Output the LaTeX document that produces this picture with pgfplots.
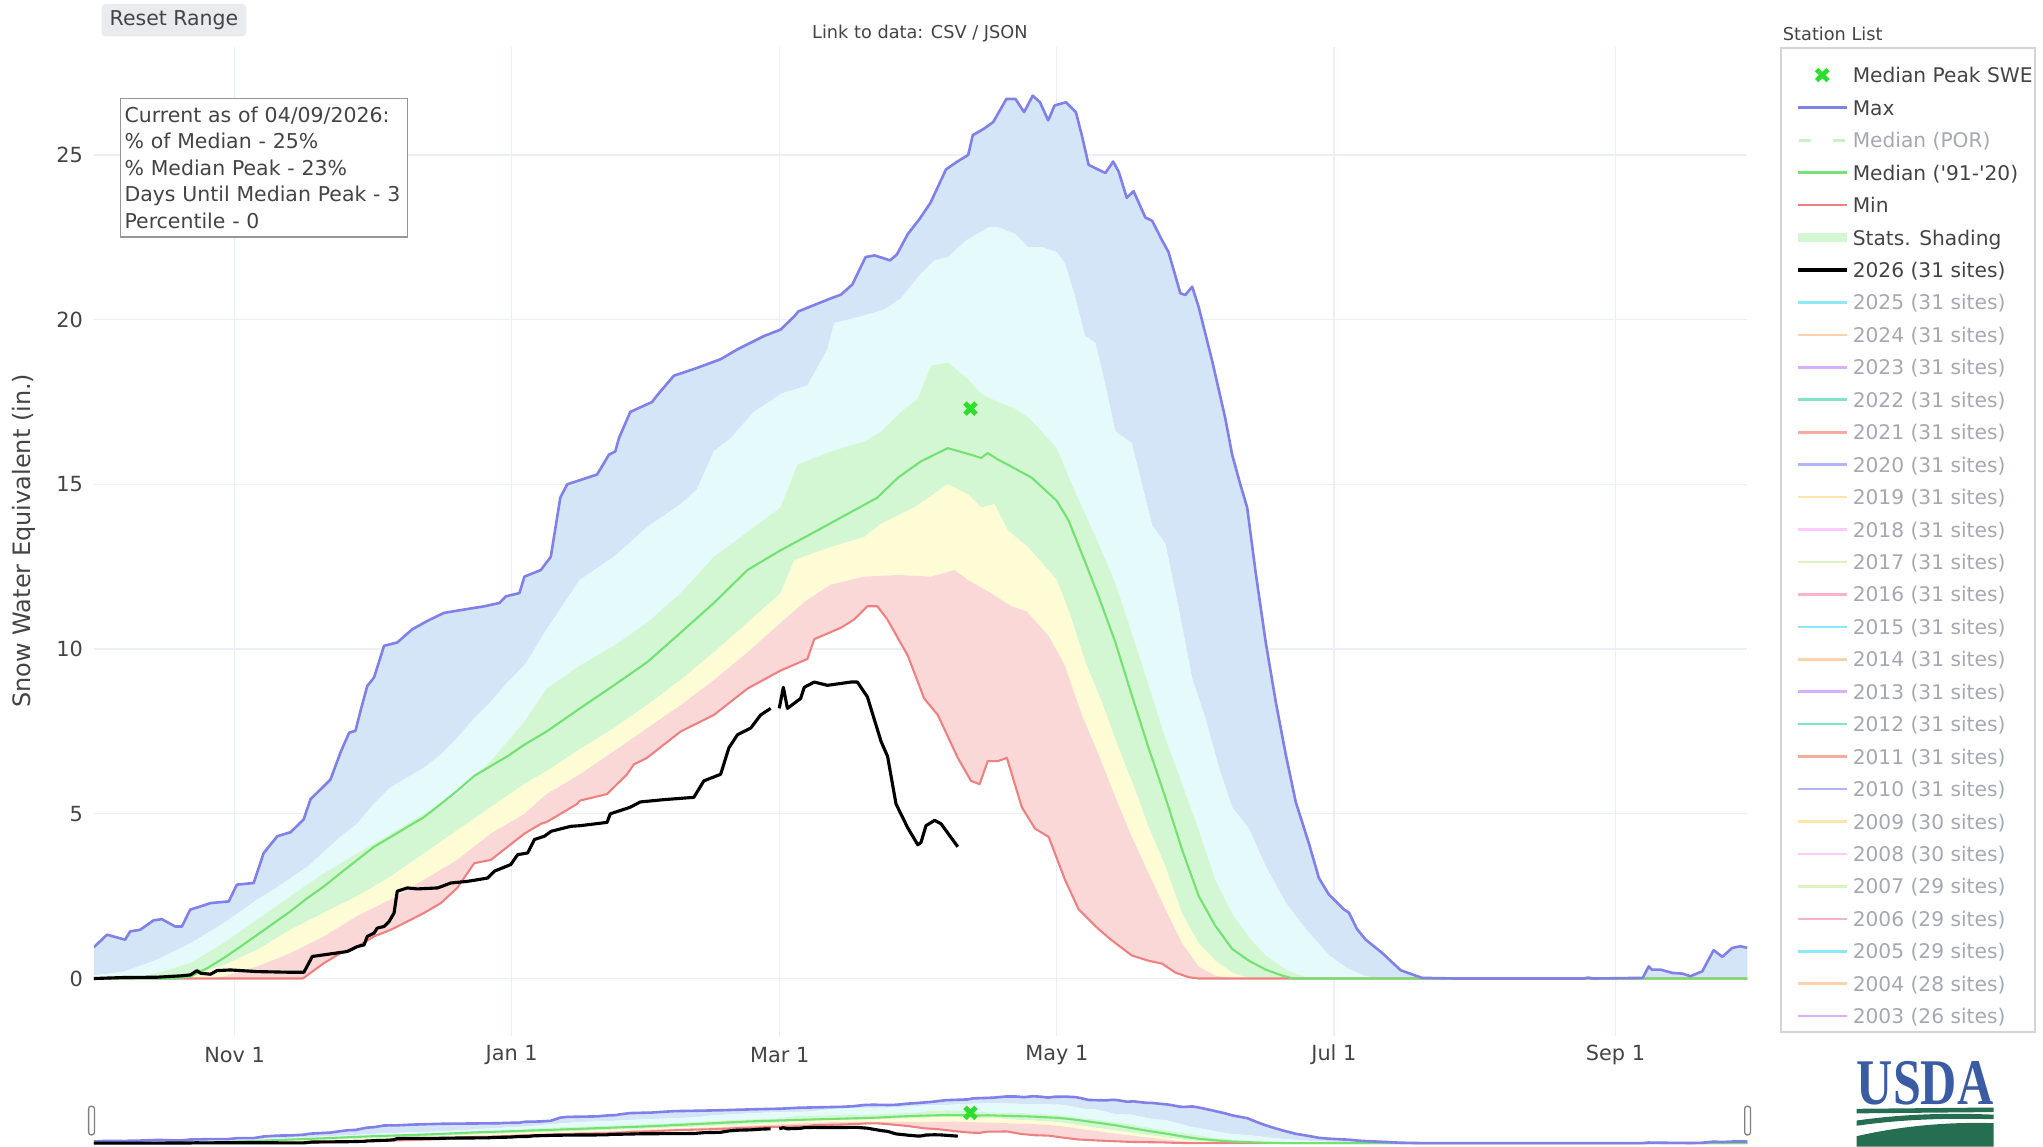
\documentclass[border=0pt]{standalone}
\usepackage{fontspec}
\setmainfont{DejaVu Sans}
\newfontfamily\usdafont{Liberation Serif}
\usepackage{pgfplots}
\pgfplotsset{compat=1.18}
\usepgfplotslibrary{fillbetween}
\usepackage{pgfplotstable}

\definecolor{txt}{RGB}{68,68,68}
\definecolor{hidt}{RGB}{165,168,178}
\definecolor{gridc}{RGB}{235,240,248}
\definecolor{cmax}{RGB}{128,128,232}
\definecolor{bblue}{RGB}{213,229,248}
\definecolor{bcyan}{RGB}{228,250,251}
\definecolor{bgreen}{RGB}{211,246,211}
\definecolor{byellow}{RGB}{253,252,212}
\definecolor{bpink}{RGB}{251,216,216}
\definecolor{cmed}{RGB}{115,226,115}
\definecolor{cmin}{RGB}{238,128,128}
\definecolor{cpeak}{RGB}{46,222,46}
\definecolor{legc}{RGB}{212,212,212}
\definecolor{boxc}{RGB}{150,150,150}
\definecolor{btnc}{RGB}{233,235,239}
\definecolor{usdablue}{RGB}{58,92,164}
\definecolor{usdagreen}{RGB}{38,110,82}
\definecolor{pblue}{RGB}{99,110,250}
\definecolor{pred}{RGB}{239,85,59}
\definecolor{pgreen}{RGB}{0,204,150}
\definecolor{ppurple}{RGB}{171,99,250}
\definecolor{porange}{RGB}{255,161,90}
\definecolor{pcyan}{RGB}{25,211,243}
\definecolor{ppink}{RGB}{255,102,146}
\definecolor{plgreen}{RGB}{182,232,128}
\definecolor{pmag}{RGB}{255,151,255}
\definecolor{pyellow}{RGB}{254,203,82}

\pgfplotstableread{
d v
0 0.95
2.9 1.33
6.9 1.18
8 1.43
10.2 1.48
13.2 1.77
15 1.8
17.9 1.58
19.4 1.58
21.2 2.09
23.5 2.19
25.7 2.29
29.7 2.34
31.5 2.85
35.2 2.9
37.4 3.81
40.4 4.32
43.3 4.44
46.2 4.83
47.7 5.44
49.9 5.74
52.1 6.04
54.3 6.86
56.2 7.46
57.6 7.52
58.8 8.17
60.2 8.88
61.7 9.14
63.9 10.1
66.8 10.2
70.1 10.6
73.5 10.86
77.1 11.1
81.5 11.2
86 11.3
89.3 11.4
90.7 11.6
93.7 11.7
94.8 12.2
98.4 12.4
100.6 12.8
102.7 14.6
104.2 15.0
110.8 15.3
113.4 15.9
114.8 16.0
115.6 16.4
118.1 17.2
122.9 17.5
124 17.7
127.7 18.3
132.1 18.5
138 18.8
141.7 19.1
147.5 19.5
151.2 19.7
154.2 20.1
155.1 20.25
162.5 20.66
164.5 20.76
167 21.07
169.9 21.9
171.9 21.95
175.3 21.8
176.8 21.98
179.2 22.6
181.7 23.04
184.2 23.55
187.6 24.56
190.1 24.8
192.5 25.0
193.5 25.6
196 25.8
198 26.0
200.9 26.7
202.9 26.7
204.8 26.3
206.7 26.8
208.3 26.6
210.1 26.05
211.5 26.5
214 26.6
216.2 26.3
217.5 25.6
219 24.7
222.7 24.45
224.4 24.8
225.6 24.5
227.4 23.7
228.9 23.9
231.5 23.1
233 23.0
235.2 22.4
236.6 22.05
239.2 20.8
240.3 20.75
241.8 21.0
243.2 20.4
246.2 18.75
249.1 17.0
250.6 15.9
252.4 15.0
253.9 14.3
255.8 12.3
258 10.2
260.2 8.4
262.4 6.8
264.6 5.36
267.5 4.1
269.7 3.05
271.9 2.55
275.2 2.1
276.3 2.0
278.1 1.5
280 1.18
283.6 0.78
287.7 0.25
292.4 0.02
300 0
328 0
329 0.03
330 0
341 0.02
342.3 0.37
343 0.27
344.9 0.27
347.5 0.17
349.7 0.15
351.5 0.07
354.1 0.22
356.6 0.86
358.5 0.66
360.7 0.93
362.5 0.98
364 0.93
}\tmax

\pgfplotstableread{
d v
0 0.1
6.5 0.2
13.9 0.57
21.3 1.07
28.6 1.68
36 2.4
39.6 2.7
43.3 3.05
47.1 3.4
50.7 3.85
54.3 4.3
58 4.7
61.6 5.3
65.3 5.8
69 6.1
72.7 6.4
76.4 6.8
80 7.3
83.7 7.9
87.4 8.4
91.1 9.0
94.8 9.5
99.7 10.6
107 12.1
114.5 12.8
121.8 13.7
129.2 14.4
132.8 14.85
136.5 16.0
140.2 16.4
145.3 17.2
149.8 17.6
151.2 17.75
157.1 18.0
161.5 19.1
163 19.9
168.9 20.1
174 20.3
177.7 20.65
182.1 21.4
185 21.8
188.1 21.9
192 22.4
197 22.8
199.1 22.8
202.8 22.6
205.75 22.2
208.7 22.2
212 22.05
213.8 21.7
216 20.7
218.2 19.5
220.5 19.3
222.7 18.0
224.9 16.6
228.5 16.25
230.75 15.0
233 13.75
235.9 13.2
238.8 11.25
241.8 9.1
244.7 7.9
247.7 6.4
250.6 5.2
254.3 4.55
258 3.4
262.4 2.3
266.8 1.5
272 0.7
276 0.3
280 0.07
284 0
364 0
}\tpn

\pgfplotstableread{
d v
0 0
10 0.02
13.9 0.16
21.3 0.47
28.6 1.08
36 1.79
43.3 2.5
50.7 3.2
58 3.8
65.4 4.4
72.7 5.0
80.1 5.6
87.4 6.6
94.8 7.8
99.7 8.8
107 9.5
114.5 10.1
121.8 10.8
129.2 11.7
136.5 12.8
143.9 13.55
151.2 14.3
154.9 15.6
162.3 16.0
169.6 16.3
173.3 16.6
177.7 17.2
181.4 17.6
184.3 18.6
188 18.7
192.4 18.2
195.3 17.75
199.1 17.5
202.8 17.3
206 17.0
212 16.1
215.3 15.0
218.25 14.1
221.2 13.2
224.9 12.0
228.5 10.5
232.2 8.9
235.9 7.3
239.6 5.9
243.25 4.5
246.9 3.0
250.6 1.96
254.3 1.25
258 0.7
262.4 0.27
266.8 0.04
268 0
364 0
}\tps

\pgfplotstableread{
d v
0 0
18 0
21.3 0.06
24.9 0.31
28.6 0.62
32.3 0.97
36 1.33
39.6 1.68
43.3 2.04
47 2.44
50.7 2.8
54.3 3.2
58 3.6
61.7 4.0
65.4 4.3
69 4.6
72.7 4.9
76.4 5.3
80 5.7
83.75 6.15
87.4 6.45
91.1 6.75
94.8 7.1
99.7 7.5
107 8.2
114.5 8.9
121.8 9.6
129.2 10.5
136.5 11.4
143.9 12.4
151.2 13.0
158.6 13.55
165.9 14.1
172.5 14.6
177 15.2
182.1 15.7
188 16.1
193.1 15.9
195.3 15.8
196.8 15.95
199.1 15.75
201.2 15.6
206.5 15.2
212 14.5
214.6 13.9
217.5 12.9
221.2 11.6
224.9 10.2
228.5 8.6
232.2 7.0
235.9 5.5
239.6 3.9
243.25 2.5
246.9 1.6
250.6 0.9
254.3 0.54
258 0.27
261.6 0.09
264 0
364 0
}\tmed

\pgfplotstableread{
d v
0 0
17.6 0
21.3 0.1
28.6 0.4
36 0.87
43.3 1.48
50.7 2.0
58 2.5
65.4 3.1
72.7 3.8
80 4.5
87.4 5.2
94.8 5.9
99.7 6.3
107 6.96
114.5 7.6
121.8 8.3
129.2 9.06
136.5 9.9
143.9 10.8
151.2 11.7
154.2 12.7
162.3 13.1
169.6 13.4
173.3 13.8
180.6 14.3
188 15.0
192.4 14.7
195.3 14.3
198.3 14.4
201.2 13.6
205.6 13.1
212 12.1
215.3 10.9
218.25 9.6
221.9 8.4
225.6 7.0
229.3 5.7
232.2 4.6
235.9 3.4
239.6 1.96
243.25 1.07
246.9 0.54
250.6 0.18
254.3 0
364 0
}\tpt

\pgfplotstableread{
d v
0 0
26 0
28.6 0.06
36 0.37
43.3 0.77
50.7 1.28
58 1.9
65.4 2.4
72.7 3.0
80 3.6
87.4 4.4
94.8 5.0
99.7 5.6
107 6.2
114.5 6.9
121.8 7.6
129.2 8.3
136.5 9.06
143.9 9.9
151.2 10.8
157.1 11.5
162.3 11.96
169.6 12.2
177 12.25
184.3 12.2
189.5 12.4
192.4 12.1
197.5 11.7
202 11.3
205.3 11.15
210.2 10.4
213.8 9.5
217.5 8.0
221.2 6.8
224.9 5.5
228.5 4.3
232.2 3.2
235.9 2.1
239.6 1.07
243.25 0.36
246.9 0.09
250.6 0
364 0
}\tpo

\pgfplotstableread{
d v
0 0
46 0
47 0.1
50.7 0.47
54.3 0.77
58 0.97
61.7 1.28
65.4 1.48
69 1.73
72.7 1.99
76.4 2.29
80 2.75
83.75 3.5
87.4 3.6
91.1 4.0
94.8 4.4
98.5 4.7
99.7 4.75
106.4 5.3
107 5.4
113 5.6
117.4 6.2
118.9 6.5
121.8 6.7
129.2 7.5
136.5 8.0
143.9 8.8
151.2 9.35
157.1 9.7
158.6 10.3
164.5 10.65
167.4 10.9
170.3 11.3
172.5 11.3
174.7 10.9
179.2 9.8
182.8 8.5
185.8 8.0
190.2 6.7
193.1 6.0
195 5.9
196.8 6.6
199.1 6.6
201 6.7
204.3 5.2
207.2 4.55
210.2 4.3
213.8 3.0
216.8 2.1
221.2 1.5
224.1 1.16
228.5 0.7
232.2 0.54
235.2 0.45
238.1 0.18
241 0.04
243.25 0
364 0
}\tmin

\pgfplotstableread{
d v
0 0
6.5 0.03
13.9 0.04
19 0.08
21.3 0.11
22.7 0.24
23.5 0.16
25.7 0.13
27.1 0.24
30.1 0.26
36 0.21
43.3 0.19
46.25 0.19
48.1 0.67
50.7 0.72
55.8 0.82
58 0.97
59.5 1.02
60.2 1.28
61.7 1.38
62.4 1.53
63.9 1.58
65 1.73
66.1 1.99
66.8 2.65
69 2.75
71.25 2.72
75.7 2.75
78.6 2.9
82.3 2.95
86.7 3.05
88.2 3.26
91.8 3.46
93.3 3.76
95.5 3.81
97 4.22
99.2 4.32
100.7 4.47
105 4.62
107.1 4.64
113 4.74
113.7 5.0
118.1 5.2
120.3 5.36
125.5 5.43
132.1 5.5
134.3 6.0
138 6.2
139.8 7.0
141.7 7.4
144.6 7.6
146.8 8.0
149 8.2
}\tya

\pgfplotstableread{
d v
150.9 8.2
151.8 8.84
152.7 8.2
155.6 8.5
156.4 8.84
158.6 9.0
161.5 8.9
166.7 9.0
168.1 9.0
170.3 8.55
173.3 7.2
174.75 6.74
176.6 5.3
179.2 4.57
181.4 4.06
182.1 4.13
183.2 4.64
185.1 4.8
186.5 4.7
190.2 4.0
}\tyb

\newcommand{\swecurves}[1]{%
  \addplot[name path=#1max, draw=none, forget plot] table[x=d,y=v]{\tmax};
  \addplot[name path=#1pn, draw=none, forget plot] table[x=d,y=v]{\tpn};
  \addplot[name path=#1ps, draw=none, forget plot] table[x=d,y=v]{\tps};
  \addplot[name path=#1pt, draw=none, forget plot] table[x=d,y=v]{\tpt};
  \addplot[name path=#1po, draw=none, forget plot] table[x=d,y=v]{\tpo};
  \addplot[name path=#1min, draw=none, forget plot] table[x=d,y=v]{\tmin};
  \addplot[fill=bblue, draw=none, forget plot] fill between[of=#1max and #1pn];
  \addplot[fill=bcyan, draw=none, forget plot] fill between[of=#1pn and #1ps];
  \addplot[fill=bgreen, draw=none, forget plot] fill between[of=#1ps and #1pt];
  \addplot[fill=byellow, draw=none, forget plot] fill between[of=#1pt and #1po];
  \addplot[fill=bpink, draw=none, forget plot] fill between[of=#1po and #1min];
  \addplot[cmin, line width=0.8pt, line join=round, forget plot] table[x=d,y=v]{\tmin};
  \addplot[cmed, line width=0.8pt, line join=round, forget plot] table[x=d,y=v]{\tmed};
  \addplot[cmax, line width=1pt, line join=round, forget plot] table[x=d,y=v]{\tmax};
  \addplot[black, line width=1.2pt, line join=round, forget plot] table[x=d,y=v]{\tya};
  \addplot[black, line width=1.2pt, line join=round, forget plot] table[x=d,y=v]{\tyb};
  \addplot[only marks, mark=x, mark size=3pt, cpeak, line width=1.9pt, forget plot] coordinates {(193,17.3)};
}
\newcommand{\hid}[3]{\addlegendimage{#1,opacity=0.5,line width=1pt}\addlegendentry{\textcolor{hidt}{#2 (#3 sites)}}}

\begin{document}
\begin{tikzpicture}
\begin{axis}[
  at={(36pt,42.5pt)}, anchor=south west, scale only axis,
  width=634.5pt, height=379.5pt,
  xmin=0, xmax=364, ymin=-1.74, ymax=28.28,
  axis line style={draw=none}, tick style={draw=none},
  xtick={31,92,151,212,273,335},
  xticklabels={Nov 1,Jan 1,Mar 1,May 1,Jul 1,Sep 1},
  ytick={0,5,10,15,20,25}, yticklabels={0,5,10,15,20,25},
  extra y ticks={0}, extra y tick labels={},
  extra y tick style={grid style={gridc, line width=1pt}},
  grid=major, major grid style={gridc, line width=0.5pt},
  /pgf/number format/assume math mode=true,
  tick label style={font=\fontsize{8}{9}\selectfont, color=txt},
  xticklabel style={anchor=center, yshift=-7.2pt},
  yticklabel style={anchor=east, inner sep=0pt, xshift=-4pt},
  ylabel={Snow Water Equivalent (in.)},
  ylabel style={at={(axis description cs:-0.04255,0.5007)}, anchor=center, font=\fontsize{9.2}{11}\selectfont, color=txt},
  legend cell align=left,
  legend image code/.code={\draw[#1] (0pt,0pt) -- (19pt,0pt);},
  legend style={at={(1.02758,0.97997)}, anchor=north west, draw=none, fill=none,
    inner sep=0pt, row sep=6.65pt, column sep=0.6pt,
    font=\fontsize{7.75}{9}\selectfont, text=txt,
    nodes={inner sep=0pt, text height=5.8pt, text depth=0pt}},
]
\swecurves{m}
\addlegendimage{legend image code/.code={\draw[cpeak,line width=1.8pt] (7.3pt,-2.1pt) -- (11.7pt,2.1pt) (7.3pt,2.1pt) -- (11.7pt,-2.1pt);}}
\addlegendentry{Median Peak SWE}
\addlegendimage{cmax, line width=1pt}
\addlegendentry{Max}
\addlegendimage{cmed, opacity=0.4, line width=1pt, dash pattern=on 4.5pt off 8.5pt, dash phase=-0.7pt}
\addlegendentry{\textcolor{hidt}{Median (POR)}}
\addlegendimage{cmed, line width=1pt}
\addlegendentry{Median (\textquotesingle91-\textquotesingle20)}
\addlegendimage{cmin, line width=1pt}
\addlegendentry{Min}
\addlegendimage{bgreen, line width=3.2pt}
\addlegendentry{Stats. Shading}
\addlegendimage{black, line width=1.2pt}
\addlegendentry{2026 (31 sites)}
\hid{pcyan}{2025}{31}
\hid{porange}{2024}{31}
\hid{ppurple}{2023}{31}
\hid{pgreen}{2022}{31}
\hid{pred}{2021}{31}
\hid{pblue}{2020}{31}
\hid{pyellow}{2019}{31}
\hid{pmag}{2018}{31}
\hid{plgreen}{2017}{31}
\hid{ppink}{2016}{31}
\hid{pcyan}{2015}{31}
\hid{porange}{2014}{31}
\hid{ppurple}{2013}{31}
\hid{pgreen}{2012}{31}
\hid{pred}{2011}{31}
\hid{pblue}{2010}{31}
\hid{pyellow}{2009}{30}
\hid{pmag}{2008}{30}
\hid{plgreen}{2007}{29}
\hid{ppink}{2006}{29}
\hid{pcyan}{2005}{29}
\hid{porange}{2004}{28}
\hid{ppurple}{2003}{26}
\end{axis}

\begin{axis}[
  at={(36pt,0.15pt)}, anchor=south west, scale only axis,
  width=634.5pt, height=20.15pt,
  xmin=0, xmax=364, ymin=-1.74, ymax=28.28,
  hide axis,
]
\swecurves{s}
\end{axis}

\begin{scope}[x=0.5pt,y=-0.5pt,yshift=440pt]
  \draw[legc, line width=0.75pt] (1367,37) rectangle (1562,792);
  \node[anchor=west, inner sep=0pt, font=\fontsize{6.8}{8}\selectfont, text=txt] at (1368,26) {Station List};
  \node[inner sep=0pt, font=\fontsize{6.8}{8}\selectfont, text=txt] at (706,26) {Link to data: CSV / JSON};
  \node[fill=btnc, rounded corners=1.5pt, minimum width=55.5pt, minimum height=12.5pt, inner sep=0pt,
        font=\fontsize{7.85}{9}\selectfont, text=txt] at (133.5,15.5) {Reset Range};
  \node[draw=boxc, line width=0.6pt, fill=white, anchor=north west, inner xsep=1.5pt, inner ysep=3.2pt,
        align=left, text width=107pt, font=\fontsize{7.85}{10.15}\selectfont, text=txt] at (92,75)
        {Current as of 04/09/2026:\\\% of Median - 25\%\\\% Median Peak - 23\%\\Days Until Median Peak - 3\\Percentile - 0};
  \draw[gray, fill=white, rounded corners=1pt, line width=0.5pt] (68,849) rectangle (72.5,871);
  \draw[gray, fill=white, rounded corners=1pt, line width=0.5pt] (1339,849) rectangle (1343.5,871);
  \node[inner sep=0pt, text=usdablue, font=\usdafont\bfseries\fontsize{25}{25}\selectfont] at (1477.5,831.5) {\scalebox{0.77}[1]{USDA}};
  \fill[usdagreen] (1425,851) -- (1530,850) -- (1530,853.5) -- (1425,854.5) -- cycle;
  \fill[usdagreen] (1425,860) .. controls (1460,855) and (1495,854) .. (1530,855.5) -- (1530,859) .. controls (1495,858) and (1460,859) .. (1425,864) -- cycle;
  \fill[usdagreen] (1425,880) -- (1425,872) .. controls (1460,864) and (1495,861) .. (1530,862) -- (1530,880) -- cycle;
\end{scope}
\pgfresetboundingbox
\useasboundingbox (0,0) rectangle (784pt,440pt);
\end{tikzpicture}
\end{document}
